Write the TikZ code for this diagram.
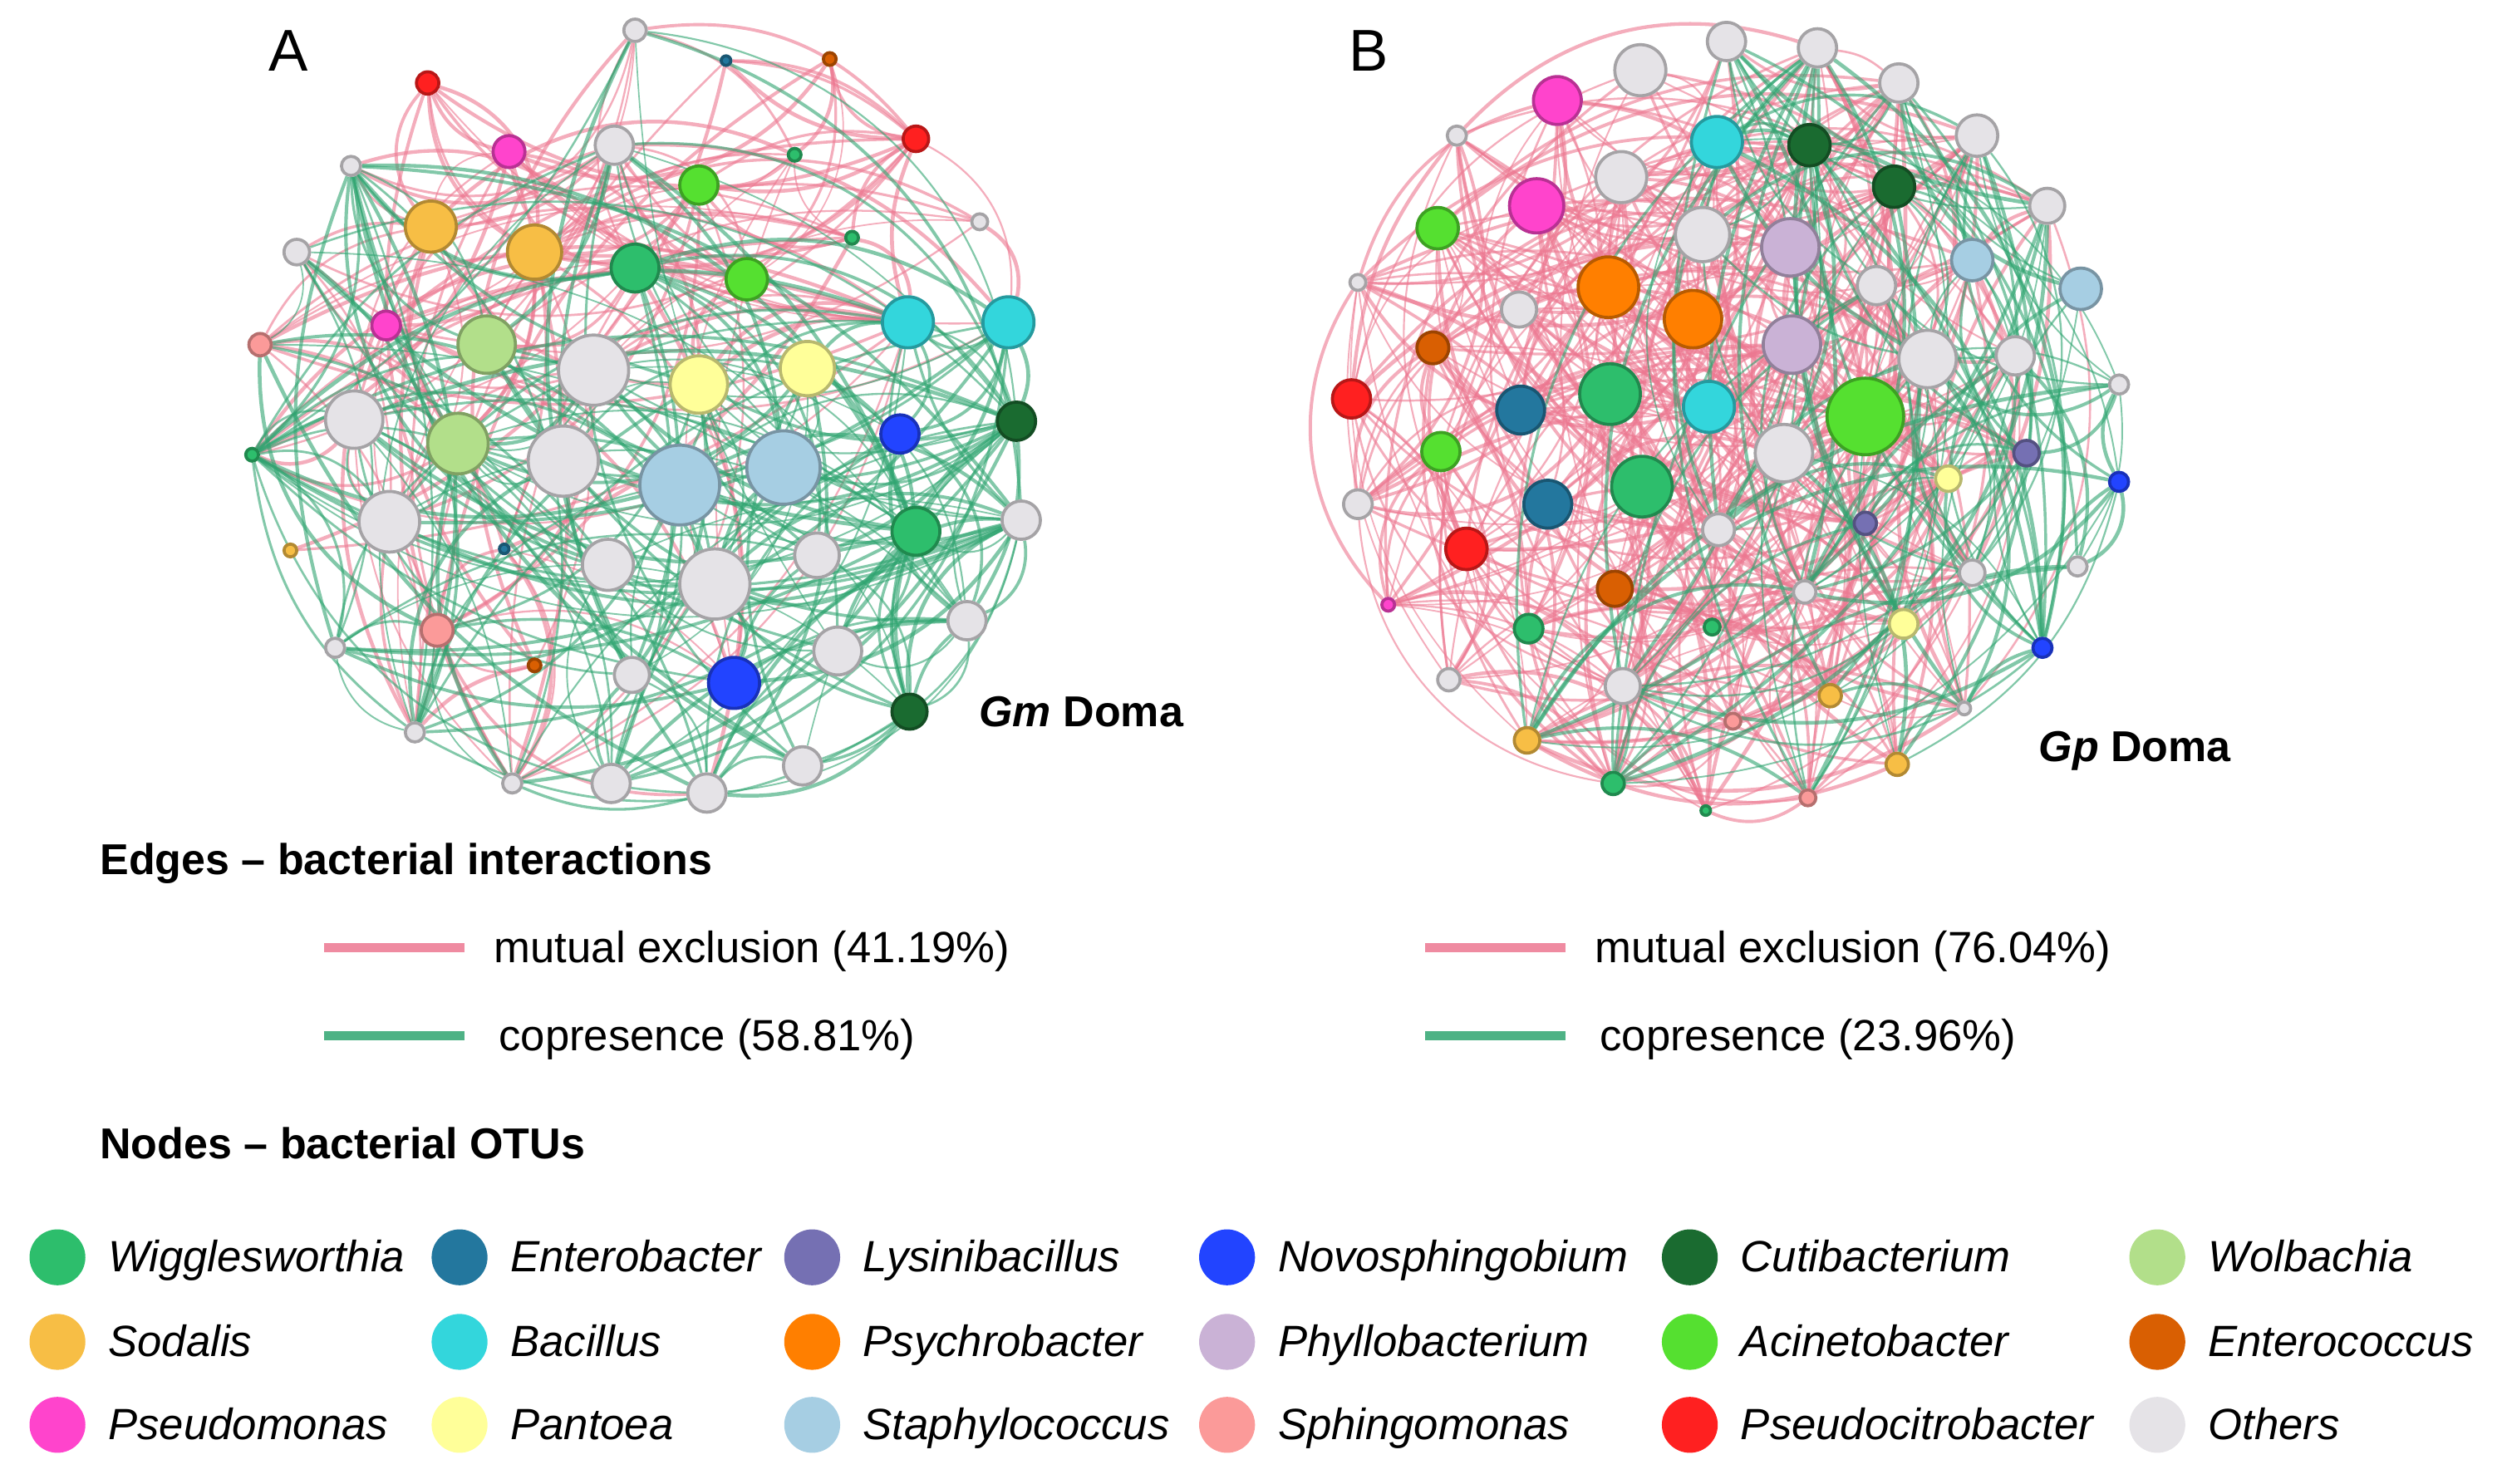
\documentclass[tikz,border=0pt]{standalone}
\usepackage{fontspec}
\setmainfont{Liberation Sans}
\usetikzlibrary{positioning}

\definecolor{cWig}{HTML}{2DBE6C}
\definecolor{cEnt}{HTML}{23779E}
\definecolor{cLys}{HTML}{7570B3}
\definecolor{cNov}{HTML}{2244FF}
\definecolor{cCut}{HTML}{1A6B30}
\definecolor{cWol}{HTML}{B2DF8A}
\definecolor{cSod}{HTML}{F7BE45}
\definecolor{cBac}{HTML}{33D6DC}
\definecolor{cPsy}{HTML}{FF7F00}
\definecolor{cPhy}{HTML}{CAB2D6}
\definecolor{cAci}{HTML}{55E030}
\definecolor{cEnc}{HTML}{D95F02}
\definecolor{cPse}{HTML}{FF44CC}
\definecolor{cPan}{HTML}{FFFF99}
\definecolor{cSta}{HTML}{A6CEE3}
\definecolor{cSph}{HTML}{FB9A99}
\definecolor{cPsc}{HTML}{FF2020}
\definecolor{cOth}{HTML}{E5E3E7}
\definecolor{mxpink}{HTML}{EC7790}
\definecolor{cpgreen}{HTML}{2FA470}

\pgfdeclarelayer{edges}
\pgfsetlayers{edges,main}

\tikzset{
  otu/.style={circle,fill=#1,draw=#1!72!black,line width=0.55pt,inner sep=0pt},
  legdot/.style={circle,fill=#1,inner sep=0pt,minimum size=3.5mm},
  lbl/.style={inner sep=0pt,text height=2.4mm,text depth=0.55mm,font=\fontsize{7.8}{9}\selectfont},
  head/.style={inner sep=0pt,text height=2.4mm,text depth=0.55mm,font=\fontsize{7.7}{9}\selectfont\bfseries},
  mutex/.style={draw=mxpink,opacity=0.6},
  copres/.style={draw=cpgreen,opacity=0.6},
  legline/.style={line width=0.6mm,draw=#1!85!white},
}

\pgfmathdeclarerandomlist{pinkA}{{1}{2}{3}{4}{5}{6}{7}{8}{9}{10}{11}{12}{13}{14}{15}{16}{17}{18}{19}{20}{21}{22}{23}{24}{26}{29}{33}{34}{35}{36}{44}{45}{50}{51}{4}{5}{7}{10}{14}{15}{18}{19}{47}{53}}
\pgfmathdeclarerandomlist{greenA}{{1}{6}{8}{13}{16}{18}{19}{20}{22}{23}{24}{25}{26}{27}{28}{29}{30}{31}{32}{33}{35}{37}{38}{39}{40}{41}{42}{43}{44}{46}{47}{48}{49}{50}{51}{52}{53}{54}{28}{37}{38}{42}{49}}
\pgfmathdeclarerandomlist{pinkB}{{1}{2}{3}{4}{5}{6}{7}{8}{9}{10}{11}{12}{13}{14}{15}{16}{17}{18}{19}{20}{21}{23}{24}{25}{26}{27}{28}{29}{30}{31}{32}{34}{35}{36}{37}{39}{40}{41}{42}{43}{44}{45}{47}{48}{49}{50}{51}{52}{54}{55}{56}{57}{58}{59}{60}{61}{62}{63}}
\pgfmathdeclarerandomlist{greenB}{{2}{3}{5}{7}{8}{10}{11}{14}{16}{17}{21}{22}{26}{27}{33}{35}{36}{37}{38}{42}{44}{45}{46}{48}{52}{53}{55}{56}{57}{59}{60}{61}{62}}

\begin{document}
\begin{tikzpicture}[x=0.01cm,y=-0.01cm]
\useasboundingbox (0,0) rectangle (1568,930);

% panel A, Gm Doma
\foreach \n/\x/\y/\r/\c in {
  1/398/19/7/cOth, 2/455/38/3/cEnt, 3/520/37/4/cEnc, 4/268/52/7/cPsc,
  5/574/87/8/cPsc, 6/220/104/6/cOth, 7/319/95/10/cPse, 8/385/91/12/cOth,
  9/498/97/4/cWig, 10/438/116/12/cAci, 11/614/139/5/cOth, 12/534/149/4/cWig,
  13/186/158/8/cOth, 14/270/142/16/cSod, 15/335/158/17/cSod, 16/398/168/15/cWig,
  17/468/175/13/cAci, 18/569/202/16/cBac, 19/632/202/16/cBac, 20/163/216/7/cSph,
  21/242/204/9/cPse, 22/305/216/18/cWol, 23/372/232/22/cOth, 24/438/241/18/cPan,
  25/506/231/17/cPan, 26/222/263/18/cOth, 27/564/272/12/cNov, 28/637/264/12/cCut,
  29/287/278/19/cWol, 30/353/289/22/cOth, 31/426/304/25/cSta, 32/491/293/23/cSta,
  33/158/285/4/cWig, 34/182/345/4/cSod, 35/244/327/19/cOth, 36/316/344/3/cEnt,
  37/574/333/15/cWig, 38/640/326/12/cOth, 39/381/354/16/cOth, 40/448/366/22/cOth,
  41/512/348/14/cOth, 42/606/389/12/cOth, 43/210/406/6/cOth, 44/274/395/10/cSph,
  45/335/417/4/cEnc, 46/396/423/11/cOth, 47/460/428/16/cNov, 48/525/408/15/cOth,
  49/570/446/11/cCut, 50/260/459/6/cOth, 51/321/491/6/cOth, 52/383/491/12/cOth,
  53/443/497/12/cOth, 54/503/480/12/cOth}
  \node[otu=\c,minimum size=\r*0.2mm] (a\n) at (\x,\y) {};

% panel B, Gp Doma
\foreach \n/\x/\y/\r/\c in {
  1/1028/44/16/cOth, 2/1082/26/12/cOth, 3/1139/30/12/cOth, 4/976/63/15/cPse,
  5/1190/52/12/cOth, 6/913/85/6/cOth, 7/1076/89/16/cBac, 8/1134/91/13/cCut,
  9/1016/111/16/cOth, 10/1187/117/13/cCut, 11/1239/85/13/cOth, 12/963/129/17/cPse,
  13/901/143/13/cAci, 14/1067/147/17/cOth, 15/1122/155/18/cPhy, 16/1283/129/11/cOth,
  17/1236/163/13/cSta, 18/851/177/5/cOth, 19/1008/180/19/cPsy, 20/1061/200/18/cPsy,
  21/1176/179/12/cOth, 22/1304/181/13/cSta, 23/952/194/11/cOth, 24/898/218/10/cEnc,
  25/1123/216/18/cPhy, 26/1208/225/18/cOth, 27/1263/223/12/cOth, 28/847/250/12/cPsc,
  29/953/257/15/cEnt, 30/1009/247/19/cWig, 31/1071/255/16/cBac, 32/1169/261/24/cAci,
  33/1328/241/6/cOth, 34/903/283/12/cAci, 35/1118/284/18/cOth, 36/1270/284/8/cLys,
  37/1221/300/8/cPan, 38/1328/302/6/cNov, 39/851/316/9/cOth, 40/970/316/15/cEnt,
  41/1029/305/19/cWig, 42/1169/328/7/cLys, 43/919/344/13/cPsc, 44/1077/332/10/cOth,
  45/1236/359/8/cOth, 46/1302/355/6/cOth, 47/1012/369/11/cEnc, 48/1131/371/7/cOth,
  49/870/379/4/cPse, 50/958/394/9/cWig, 51/1073/393/5/cWig, 52/1193/391/9/cPan,
  53/1280/406/6/cNov, 54/908/426/7/cOth, 55/1017/430/11/cOth, 56/1147/436/7/cSod,
  57/1231/444/4/cOth, 58/1086/452/5/cSph, 59/957/464/8/cSod, 60/1189/479/7/cSod,
  61/1011/491/7/cWig, 62/1133/500/5/cSph, 63/1069/508/3/cWig}
  \node[otu=\c,minimum size=\r*0.2mm] (b\n) at (\x,\y) {};

% interactions, behind the OTUs
\pgfmathsetseed{2718}
\begin{pgfonlayer}{edges}
\foreach \k in {1,...,150}{
  \pgfmathrandomitem{\p}{pinkA}\pgfmathrandomitem{\q}{pinkA}
  \pgfmathsetmacro{\bd}{(15+25*rnd)*(rnd<0.5 ? -1 : 1)}
  \pgfmathsetmacro{\lw}{0.25+0.45*rnd}
  \ifnum\p=\q\relax\else
    \draw[mutex,line width=\lw pt] (a\p) to[bend left=\bd] (a\q);
  \fi
}
\foreach \k in {1,...,210}{
  \pgfmathrandomitem{\p}{greenA}\pgfmathrandomitem{\q}{greenA}
  \pgfmathsetmacro{\bd}{(15+25*rnd)*(rnd<0.5 ? -1 : 1)}
  \pgfmathsetmacro{\lw}{0.25+0.45*rnd}
  \ifnum\p=\q\relax\else
    \draw[copres,line width=\lw pt] (a\p) to[bend left=\bd] (a\q);
  \fi
}
\foreach \k in {1,...,380}{
  \pgfmathrandomitem{\p}{pinkB}\pgfmathrandomitem{\q}{pinkB}
  \pgfmathsetmacro{\bd}{(15+25*rnd)*(rnd<0.5 ? -1 : 1)}
  \pgfmathsetmacro{\lw}{0.25+0.45*rnd}
  \ifnum\p=\q\relax\else
    \draw[mutex,line width=\lw pt] (b\p) to[bend left=\bd] (b\q);
  \fi
}
\foreach \k in {1,...,120}{
  \pgfmathrandomitem{\p}{greenB}\pgfmathrandomitem{\q}{greenB}
  \pgfmathsetmacro{\bd}{(15+25*rnd)*(rnd<0.5 ? -1 : 1)}
  \pgfmathsetmacro{\lw}{0.25+0.45*rnd}
  \ifnum\p=\q\relax\else
    \draw[copres,line width=\lw pt] (b\p) to[bend left=\bd] (b\q);
  \fi
}
\end{pgfonlayer}

% panel titles
\node[inner sep=0pt,font=\fontsize{10.5}{12}\selectfont] (tA) at (181,32) {A};
\node[inner sep=0pt,font=\fontsize{10.5}{12}\selectfont] (tB) at (858,32) {B};
\node[head,anchor=west] (gm) at (613,446) {\textit{Gm} Doma};
\node[head,anchor=west] (gp) at (1277,468) {\textit{Gp} Doma};

% edge legend
\node[head,anchor=west] (hedges) at (62,539) {Edges -- bacterial interactions};
\coordinate (mxA1) at (203,594); \coordinate (mxA2) at (291,594);
\coordinate (cpA1) at (203,649); \coordinate (cpA2) at (291,649);
\coordinate (mxB1) at (893,594); \coordinate (mxB2) at (981,594);
\coordinate (cpB1) at (893,649); \coordinate (cpB2) at (981,649);
\draw[legline=mxpink] (mxA1) -- (mxA2);
\draw[legline=cpgreen] (cpA1) -- (cpA2);
\draw[legline=mxpink] (mxB1) -- (mxB2);
\draw[legline=cpgreen] (cpB1) -- (cpB2);
\node[lbl,anchor=west,right=1.8mm of mxA2] (mxAt) {mutual exclusion (41.19\%)};
\node[lbl,anchor=west,right=2.1mm of cpA2] (cpAt) {copresence (58.81\%)};
\node[lbl,anchor=west,right=1.8mm of mxB2] (mxBt) {mutual exclusion (76.04\%)};
\node[lbl,anchor=west,right=2.1mm of cpB2] (cpBt) {copresence (23.96\%)};

% node legend
\node[head,anchor=west] (hnodes) at (62,717) {Nodes -- bacterial OTUs};
\foreach \i/\x/\y/\c/\name in {
  1/36/788/cWig/Wigglesworthia, 2/288/788/cEnt/Enterobacter, 3/509/788/cLys/Lysinibacillus,
  4/769/788/cNov/Novosphingobium, 5/1059/788/cCut/Cutibacterium, 6/1352/788/cWol/Wolbachia,
  7/36/841/cSod/Sodalis, 8/288/841/cBac/Bacillus, 9/509/841/cPsy/Psychrobacter,
  10/769/841/cPhy/Phyllobacterium, 11/1059/841/cAci/Acinetobacter, 12/1352/841/cEnc/Enterococcus,
  13/36/893/cPse/Pseudomonas, 14/288/893/cPan/Pantoea, 15/509/893/cSta/Staphylococcus,
  16/769/893/cSph/Sphingomonas, 17/1059/893/cPsc/Pseudocitrobacter, 18/1352/893/cOth/Others}{
  \node[legdot=\c] (lg\i) at (\x,\y) {};
  \node[lbl,anchor=west,right=1.3mm of lg\i] (lt\i) {\textit{\name}};
}
\end{tikzpicture}
\end{document}
